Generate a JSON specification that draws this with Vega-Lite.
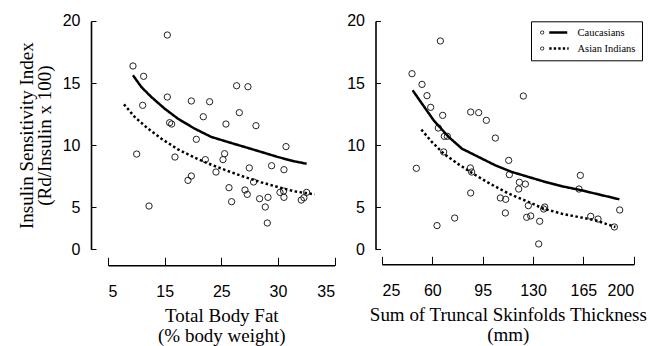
{
  "$schema": "https://vega.github.io/schema/vega-lite/v6.json",
  "background": "white",
  "padding": {"left": 16, "top": 12, "right": 2, "bottom": 2},
  "spacing": 10,
  "config": {
    "view": {"stroke": "white"}
  },
  "datasets": {
    "fatPoints": [
      {"fat": 9.41, "isi": 16.37}, {"fat": 15.47, "isi": 18.87}, {"fat": 11.29, "isi": 15.54}, {"fat": 11.12, "isi": 13.2},
      {"fat": 15.47, "isi": 13.87}, {"fat": 10.06, "isi": 9.27}, {"fat": 12.24, "isi": 5.08}, {"fat": 15.88, "isi": 11.8},
      {"fat": 16.24, "isi": 11.69}, {"fat": 16.82, "isi": 9.03}, {"fat": 19.71, "isi": 13.55}, {"fat": 22.94, "isi": 13.49},
      {"fat": 21.82, "isi": 12.28}, {"fat": 20.59, "isi": 10.46}, {"fat": 22.18, "isi": 8.82}, {"fat": 19.12, "isi": 7.15},
      {"fat": 19.71, "isi": 7.5}, {"fat": 24.06, "isi": 7.82}, {"fat": 25.3, "isi": 8.82}, {"fat": 25.58, "isi": 9.3},
      {"fat": 25.82, "isi": 11.69}, {"fat": 27.7, "isi": 14.78}, {"fat": 29.7, "isi": 14.7}, {"fat": 28.18, "isi": 12.61},
      {"fat": 31.12, "isi": 11.56}, {"fat": 26.36, "isi": 6.56}, {"fat": 26.82, "isi": 5.43}, {"fat": 29.94, "isi": 8.15},
      {"fat": 30.7, "isi": 7.02}, {"fat": 29.18, "isi": 6.37}, {"fat": 29.58, "isi": 6.02}, {"fat": 31.76, "isi": 5.67},
      {"fat": 33.24, "isi": 5.78}, {"fat": 32.76, "isi": 5.0}, {"fat": 33.12, "isi": 3.71}, {"fat": 33.88, "isi": 8.33},
      {"fat": 36.06, "isi": 8.01}, {"fat": 36.42, "isi": 9.87}, {"fat": 35.36, "isi": 6.18}, {"fat": 36.0, "isi": 6.29},
      {"fat": 36.06, "isi": 5.78}, {"fat": 39.12, "isi": 5.56}, {"fat": 39.58, "isi": 5.75}, {"fat": 40.06, "isi": 6.18}
    ],
    "fatCurves": [
      {"group": "Caucasians", "fat": 9.41, "isi": 15.62}, {"group": "Caucasians", "fat": 10.88, "isi": 14.68},
      {"group": "Caucasians", "fat": 12.65, "isi": 13.87}, {"group": "Caucasians", "fat": 15.0, "isi": 12.93},
      {"group": "Caucasians", "fat": 17.35, "isi": 12.12}, {"group": "Caucasians", "fat": 20.29, "isi": 11.32},
      {"group": "Caucasians", "fat": 23.24, "isi": 10.65}, {"group": "Caucasians", "fat": 26.18, "isi": 10.24},
      {"group": "Caucasians", "fat": 29.12, "isi": 9.84}, {"group": "Caucasians", "fat": 32.06, "isi": 9.44},
      {"group": "Caucasians", "fat": 35.0, "isi": 9.03}, {"group": "Caucasians", "fat": 37.94, "isi": 8.68},
      {"group": "Caucasians", "fat": 40.06, "isi": 8.49},
      {"group": "Asian Indians", "fat": 7.82, "isi": 13.28}, {"group": "Asian Indians", "fat": 9.71, "isi": 12.26},
      {"group": "Asian Indians", "fat": 12.06, "isi": 11.32}, {"group": "Asian Indians", "fat": 14.41, "isi": 10.51},
      {"group": "Asian Indians", "fat": 17.35, "isi": 9.65}, {"group": "Asian Indians", "fat": 20.29, "isi": 8.98},
      {"group": "Asian Indians", "fat": 23.24, "isi": 8.41}, {"group": "Asian Indians", "fat": 26.18, "isi": 7.9},
      {"group": "Asian Indians", "fat": 29.12, "isi": 7.42}, {"group": "Asian Indians", "fat": 32.06, "isi": 6.99},
      {"group": "Asian Indians", "fat": 35.0, "isi": 6.61}, {"group": "Asian Indians", "fat": 37.94, "isi": 6.26},
      {"group": "Asian Indians", "fat": 41.48, "isi": 6.02}
    ],
    "skinPoints": [
      {"skin": 45.86, "isi": 15.75}, {"skin": 65.57, "isi": 18.39}, {"skin": 52.82, "isi": 14.89}, {"skin": 56.29, "isi": 13.98},
      {"skin": 58.84, "isi": 13.04}, {"skin": 67.19, "isi": 12.39}, {"skin": 64.17, "isi": 11.37}, {"skin": 68.35, "isi": 10.7},
      {"skin": 70.43, "isi": 10.7}, {"skin": 67.88, "isi": 9.44}, {"skin": 48.88, "isi": 8.12}, {"skin": 63.25, "isi": 3.5},
      {"skin": 75.53, "isi": 4.11}, {"skin": 86.66, "isi": 12.66}, {"skin": 92.22, "isi": 12.61}, {"skin": 97.55, "isi": 11.99},
      {"skin": 103.81, "isi": 10.56}, {"skin": 86.43, "isi": 8.15}, {"skin": 87.35, "isi": 7.82}, {"skin": 86.66, "isi": 6.13},
      {"skin": 113.09, "isi": 8.76}, {"skin": 113.55, "isi": 7.61}, {"skin": 123.28, "isi": 13.95}, {"skin": 120.5, "isi": 6.99},
      {"skin": 124.68, "isi": 6.85}, {"skin": 120.04, "isi": 6.45}, {"skin": 107.29, "isi": 5.73}, {"skin": 111.0, "isi": 5.62},
      {"skin": 110.77, "isi": 4.52}, {"skin": 126.76, "isi": 5.11}, {"skin": 125.6, "isi": 4.17}, {"skin": 128.39, "isi": 4.28},
      {"skin": 134.64, "isi": 3.85}, {"skin": 133.95, "isi": 2.02}, {"skin": 137.42, "isi": 4.84}, {"skin": 138.12, "isi": 5.0},
      {"skin": 161.99, "isi": 6.45}, {"skin": 162.92, "isi": 7.55}, {"skin": 170.1, "isi": 4.25}, {"skin": 175.2, "isi": 4.03},
      {"skin": 186.56, "isi": 3.39}, {"skin": 190.27, "isi": 4.76}
    ],
    "skinCurves": [
      {"group": "Caucasians", "skin": 46.33, "isi": 14.41}, {"group": "Caucasians", "skin": 52.82, "isi": 13.33},
      {"group": "Caucasians", "skin": 60.93, "isi": 11.99}, {"group": "Caucasians", "skin": 71.36, "isi": 10.65},
      {"group": "Caucasians", "skin": 80.63, "isi": 9.7}, {"group": "Caucasians", "skin": 92.22, "isi": 9.03},
      {"group": "Caucasians", "skin": 103.81, "isi": 8.36}, {"group": "Caucasians", "skin": 115.4, "isi": 7.82},
      {"group": "Caucasians", "skin": 126.99, "isi": 7.42}, {"group": "Caucasians", "skin": 138.58, "isi": 7.02},
      {"group": "Caucasians", "skin": 150.17, "isi": 6.67}, {"group": "Caucasians", "skin": 161.76, "isi": 6.4},
      {"group": "Caucasians", "skin": 173.35, "isi": 6.08}, {"group": "Caucasians", "skin": 190.04, "isi": 5.62},
      {"group": "Asian Indians", "skin": 52.35, "isi": 11.24}, {"group": "Asian Indians", "skin": 59.77, "isi": 10.24},
      {"group": "Asian Indians", "skin": 67.88, "isi": 9.3}, {"group": "Asian Indians", "skin": 78.31, "isi": 8.44},
      {"group": "Asian Indians", "skin": 87.59, "isi": 7.74}, {"group": "Asian Indians", "skin": 99.18, "isi": 6.94},
      {"group": "Asian Indians", "skin": 113.09, "isi": 6.08}, {"group": "Asian Indians", "skin": 127.0, "isi": 5.4},
      {"group": "Asian Indians", "skin": 137.42, "isi": 4.86}, {"group": "Asian Indians", "skin": 150.17, "isi": 4.46},
      {"group": "Asian Indians", "skin": 161.76, "isi": 4.19}, {"group": "Asian Indians", "skin": 173.35, "isi": 3.93},
      {"group": "Asian Indians", "skin": 187.26, "isi": 3.39}
    ]
  },
  "resolve": {"legend": {"shape": "independent"}},
  "hconcat": [
    {
      "width": 226.6,
      "height": 228.3,
      "layer": [
        {
          "data": {"name": "fatPoints"},
          "mark": {"type": "point", "shape": "circle", "filled": false, "size": 40, "stroke": "#222", "strokeWidth": 1, "opacity": 1},
          "encoding": {
            "x": {"field": "fat", "type": "quantitative", "scale": {"domain": [5, 45], "nice": false, "zero": false},
              "axis": {"values": [5, 15, 25, 35, 45], "labelExpr": "datum.value == 35 ? '30' : datum.value == 45 ? '35' : datum.label", "offset": 16, "zindex": 1, "grid": false, "domain": true, "ticks": true, "domainColor": "black", "domainWidth": 1.6, "domainOpacity": 1, "tickColor": "black", "tickWidth": 1, "tickOpacity": 1, "tickSize": -8, "labelPadding": 26, "labelFont": "Liberation Sans", "labelFontSize": 16, "labelColor": "black", "title": ["Total Body Fat", "(% body weight)"], "titleFont": "Liberation Serif", "titleFontSize": 19, "titleFontWeight": "normal", "titleColor": "black", "titleLineHeight": 20, "titlePadding": 7}},
            "y": {"field": "isi", "type": "quantitative", "scale": {"domain": [1.59, 20], "nice": false, "zero": false},
              "axis": {"values": [1.59, 5, 10, 15, 20], "labelExpr": "datum.value < 2 ? '0' : datum.label", "offset": 17, "zindex": 1, "grid": false, "domain": true, "ticks": true, "domainColor": "black", "domainWidth": 1.6, "domainOpacity": 1, "tickColor": "black", "tickWidth": 1, "tickOpacity": 1, "tickSize": -5, "labelPadding": 16, "labelFont": "Liberation Sans", "labelFontSize": 16, "labelColor": "black", "title": ["Insulin Sensitivity Index", "(Rd/Insulin x 100)"], "titleFont": "Liberation Serif", "titleFontSize": 19, "titleFontWeight": "normal", "titleColor": "black", "titleLineHeight": 18, "titlePadding": 8}}
          }
        },
        {
          "data": {"name": "fatCurves"},
          "mark": {"type": "line", "color": "black", "strokeWidth": 2.5},
          "encoding": {
            "x": {"field": "fat", "type": "quantitative"},
            "y": {"field": "isi", "type": "quantitative"},
            "strokeDash": {"field": "group", "type": "nominal", "scale": {"domain": ["Caucasians", "Asian Indians"], "range": [[1, 0], [2.5, 2.5]]}, "legend": null}
          }
        }
      ]
    },
    {
      "width": 251.7,
      "height": 228.3,
      "layer": [
        {
          "data": {"name": "skinPoints"},
          "mark": {"type": "point", "shape": "circle", "filled": false, "size": 40, "stroke": "#222", "strokeWidth": 1, "opacity": 1},
          "encoding": {
            "x": {"field": "skin", "type": "quantitative", "scale": {"domain": [25, 200], "nice": false, "zero": false},
              "axis": {"values": [25, 60, 95, 130, 165, 200], "offset": 15, "zindex": 1, "grid": false, "domain": true, "ticks": true, "domainColor": "black", "domainWidth": 1.6, "domainOpacity": 1, "tickColor": "black", "tickWidth": 1, "tickOpacity": 1, "tickSize": -8, "labelPadding": 26, "labelFont": "Liberation Sans", "labelFontSize": 16, "labelColor": "black", "title": ["Sum of Truncal Skinfolds Thickness", "(mm)"], "titleFont": "Liberation Serif", "titleFontSize": 19, "titleFontWeight": "normal", "titleColor": "black", "titleLineHeight": 20, "titlePadding": 7}},
            "y": {"field": "isi", "type": "quantitative", "scale": {"domain": [1.59, 20], "nice": false, "zero": false},
              "axis": {"values": [1.59, 5, 10, 15, 20], "labelExpr": "datum.value < 2 ? '0' : datum.label", "offset": 6.5, "zindex": 1, "grid": false, "domain": true, "ticks": true, "domainColor": "black", "domainWidth": 1.6, "domainOpacity": 1, "tickColor": "black", "tickWidth": 1, "tickOpacity": 1, "tickSize": -5, "labelPadding": 16, "labelFont": "Liberation Sans", "labelFontSize": 16, "labelColor": "black", "title": null}}
          }
        },
        {
          "data": {"name": "skinCurves"},
          "mark": {"type": "line", "color": "black", "strokeWidth": 2.5},
          "encoding": {
            "x": {"field": "skin", "type": "quantitative"},
            "y": {"field": "isi", "type": "quantitative"},
            "strokeDash": {"field": "group", "type": "nominal", "scale": {"domain": ["Caucasians", "Asian Indians"], "range": [[1, 0], [2.5, 2.5]]}, "legend": null}
          }
        },
        {
          "data": {"name": "skinCurves"},
          "mark": {"type": "point", "filled": true, "opacity": 0, "color": "black"},
          "encoding": {
            "x": {"field": "skin", "type": "quantitative"},
            "y": {"field": "isi", "type": "quantitative"},
            "shape": {"field": "group", "type": "nominal",
              "scale": {"domain": ["Caucasians", "Asian Indians"], "range": [
                "M -2 0 A 2 2 0 1 0 2 0 A 2 2 0 1 0 -2 0 Z M -1.3 0 A 1.3 1.3 0 1 1 1.3 0 A 1.3 1.3 0 1 1 -1.3 0 Z M 7 -1.3 L 25 -1.3 L 25 1.3 L 7 1.3 Z",
                "M -2 0 A 2 2 0 1 0 2 0 A 2 2 0 1 0 -2 0 Z M -1.3 0 A 1.3 1.3 0 1 1 1.3 0 A 1.3 1.3 0 1 1 -1.3 0 Z M 7 -1.2 L 9.4 -1.2 L 9.4 1.2 L 7 1.2 Z M 11.5 -1.2 L 13.9 -1.2 L 13.9 1.2 L 11.5 1.2 Z M 16 -1.2 L 18.4 -1.2 L 18.4 1.2 L 16 1.2 Z M 20.5 -1.2 L 22.9 -1.2 L 22.9 1.2 L 20.5 1.2 Z M 25 -1.2 L 26.4 -1.2 L 26.4 1.2 L 25 1.2 Z"
              ]},
              "legend": {"title": null, "orient": "none", "legendX": 149, "legendY": 0.3, "strokeColor": "black", "fillColor": "white", "padding": 6, "symbolSize": 4, "labelOffset": 30, "labelFont": "Liberation Serif", "labelFontSize": 10.5, "labelColor": "black", "rowPadding": 5,
                "symbolOpacity": 1, "symbolFillColor": "black", "symbolStrokeWidth": 0,
                "encode": {"symbols": {"update": {"opacity": {"value": 1}, "fill": {"value": "black"}, "strokeWidth": {"value": 0}}}}}
            }
          }
        }
      ]
    }
  ]
}
